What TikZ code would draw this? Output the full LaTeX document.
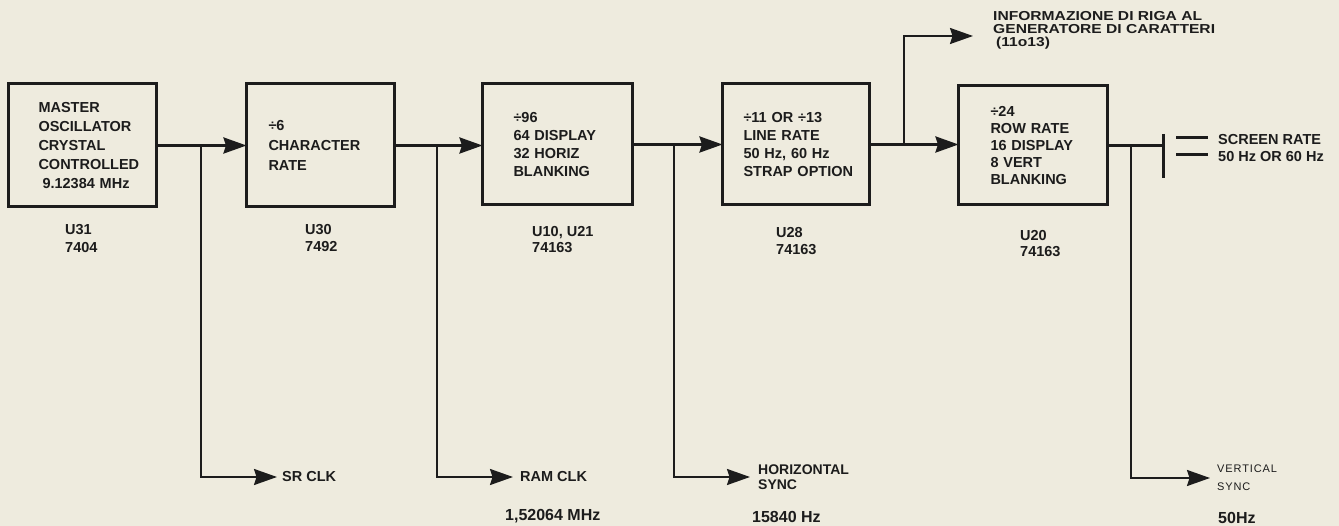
\documentclass[tikz,border=0pt]{standalone}
\usepackage{fontspec}
\setmainfont{Liberation Sans}
\newfontfamily\widefont[FakeStretch=1.2]{Liberation Sans}
\newfontfamily\spacedfont[LetterSpace=8]{Liberation Sans}
\usetikzlibrary{arrows.meta}
\definecolor{paper}{RGB}{238,235,222}
\definecolor{ink}{RGB}{28,28,28}
\begin{document}
\begin{tikzpicture}[x=1pt,y=-1pt,
  blk/.style={draw=ink, line width=3pt, rectangle, anchor=north west, align=left, outer sep=0pt,
    inner xsep=0pt, inner ysep=0pt, text=ink, font=\fontsize{14.5}{19}\bfseries\selectfont},
  wire/.style={draw=ink, line width=3pt},
  branch/.style={draw=ink, line width=2.2pt},
  arr/.style={-{Stealth[length=23pt,width=16pt,inset=2.5pt]}},
  lbl/.style={anchor=west, text=ink, align=left, inner sep=0pt, font=\fontsize{14.5}{17}\bfseries\selectfont},
  part/.style={anchor=north west, text=ink, align=left, inner sep=0pt},
]
\fill[paper] (0,0) rectangle (1339,526);
\useasboundingbox (0,0) rectangle (1339,526);

% blocks
\node[blk, minimum width=148pt, minimum height=123pt, text width=88pt,
  font=\fontsize{14.5}{19}\bfseries\selectfont] (b1) at (8.5,84)
  {MASTER\\\mbox{OSCILLATOR}\\CRYSTAL\\\mbox{CONTROLLED}\\\mbox{\hspace*{4pt}9.12384 MHz}};
\node[blk, minimum width=148pt, minimum height=123pt, text width=104pt,
  font=\fontsize{14.5}{20}\bfseries\selectfont] (b2) at (246.5,84)
  {÷6\\\mbox{CHARACTER}\\RATE};
\node[blk, minimum width=150pt, minimum height=121pt, text width=88pt,
  font=\fontsize{14.5}{18}\bfseries\selectfont] (b3) at (482.5,84)
  {÷96\\\mbox{64 DISPLAY}\\\mbox{32 HORIZ}\\\mbox{BLANKING}};
\node[blk, minimum width=147pt, minimum height=121pt, text width=105pt,
  font=\fontsize{14.5}{18}\bfseries\selectfont] (b4) at (722.5,84)
  {\mbox{÷11 OR ÷13}\\\mbox{LINE RATE}\\\mbox{50 Hz, 60 Hz}\\\mbox{STRAP OPTION}};
\node[blk, minimum width=149pt, minimum height=119pt, text width=85pt,
  font=\fontsize{14.5}{17}\bfseries\selectfont] (b5) at (958.5,86)
  {÷24\\\mbox{ROW RATE}\\\mbox{16 DISPLAY}\\\mbox{8 VERT}\\\mbox{BLANKING}};

% part numbers
\node[part, font=\fontsize{14.5}{18}\bfseries\selectfont] (p1) at (65,224) {U31\\7404};
\node[part, font=\fontsize{14.5}{17}\bfseries\selectfont] (p2) at (305,224) {U30\\7492};
\node[part, font=\fontsize{14.5}{16}\bfseries\selectfont] (p3) at (532,226) {U10, U21\\74163};
\node[part, font=\fontsize{14.5}{17}\bfseries\selectfont] (p4) at (776,227) {U28\\74163};
\node[part, font=\fontsize{14.5}{16}\bfseries\selectfont] (p5) at (1020,230) {U20\\74163};

% main chain
\draw[wire,arr] (b1.east) -- (b1.east -| b2.west);
\draw[wire,arr] (b2.east) -- (b2.east -| b3.west);
\draw[wire,arr] (b3.east) -- (b3.east -| b4.west);
\draw[wire,arr] (b4.east) -- (b4.east -| b5.west);

% junctions
\coordinate (j1) at (201,145.5);
\coordinate (j2) at (437,145.5);
\coordinate (j3) at (674,144.5);
\coordinate (j4) at (904,144.5);
\coordinate (j5) at (1131,145.5);

% output labels
\node[lbl] (sr) at (282,477) {SR CLK};
\node[lbl] (ram) at (520,477) {RAM CLK};
\node[lbl, font=\fontsize{14}{15}\bfseries\selectfont] (hs) at (758,477.5) {HORIZONTAL\\SYNC};
\node[lbl, font=\fontsize{11}{18}\spacedfont] (vs) at (1217,478) {VERTICAL\\SYNC};
\node[lbl, font=\fontsize{16}{18}\bfseries\selectfont] (f1) at (505,516) {1,52064 MHz};
\node[lbl, font=\fontsize{16}{18}\bfseries\selectfont] (f2) at (752,517) {15840 Hz};
\node[lbl, font=\fontsize{16}{18}\bfseries\selectfont] (f3) at (1218,518) {50Hz};
\node[part, font=\fontsize{13}{12.5}\widefont\bfseries] (info) at (993,11.5)
  {INFORMAZIONE DI RIGA AL\\GENERATORE DI CARATTERI\\[0.5pt]\hspace*{3pt}(11o13)};
\coordinate (infoin) at (973,36);

\draw[branch,arr] (j1) |- ([xshift=-5pt]sr.west);
\draw[branch,arr] (j2) |- ([xshift=-7pt]ram.west);
\draw[branch,arr] (j3) |- ([xshift=-8pt,yshift=0.5pt]hs.west);
\draw[branch,arr] (j4) |- (infoin);
\draw[branch,arr] (j5) |- ([xshift=-7pt]vs.west);

% screen rate
\coordinate (bar) at (1163,145.5);
\coordinate (bartop) at (1163,134);
\coordinate (barbot) at (1163,178);
\draw[wire] (b5.east) -- (b5.east -| bar);
\draw[draw=ink, line width=3pt] (bartop) -- (barbot);
\node[lbl] (scr) at (1218,148) {SCREEN RATE\\50 Hz OR 60 Hz};
\coordinate (s1a) at (1176,138);
\coordinate (s1b) at (1208,138);
\coordinate (s2a) at (1176,155);
\coordinate (s2b) at (1208,155);
\draw[wire] (s1a) -- (s1b);
\draw[wire] (s2a) -- (s2b);
\end{tikzpicture}
\end{document}
